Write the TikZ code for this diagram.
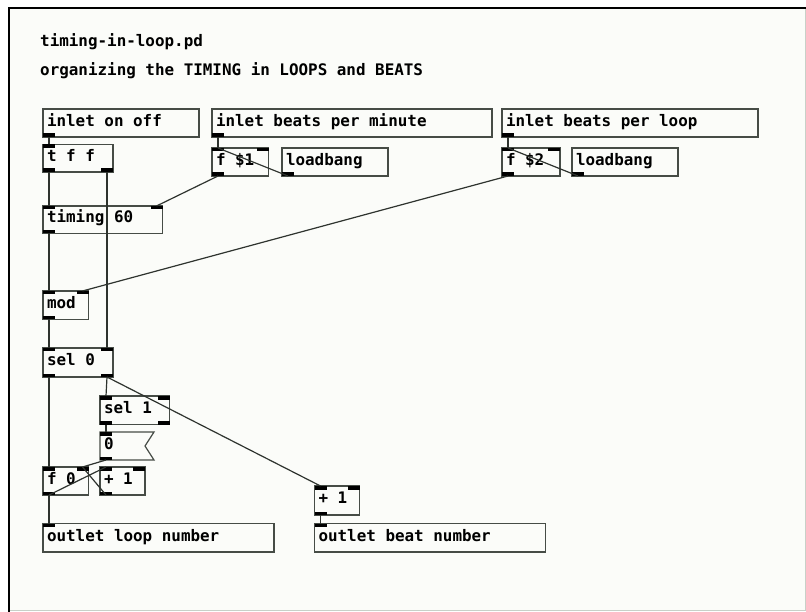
\documentclass[tikz,border=0pt]{standalone}
\usepackage{fontspec}
\newfontfamily\pdfont{DejaVu Sans Mono}
\usetikzlibrary{calc}
\definecolor{bg}{HTML}{FBFCF9}
\definecolor{edge}{HTML}{464C46}
\definecolor{wire}{HTML}{2E332E}
\definecolor{frameR}{HTML}{C8D0C8}
\tikzset{
  pdtext/.style={font=\pdfont\bfseries\fontsize{15.9}{18}\selectfont},
  pdbox/.style={pdtext, draw=edge, line width=1.2pt, anchor=north west,
    inner ysep=0pt, inner xsep=4pt, outer sep=0pt, align=left,
    text height=10.5pt, text depth=4pt,
    execute at begin node={\spaceskip=0pt\xspaceskip=0pt}},
  msgbox/.style={pdbox, draw=none},
  nub/.style={fill=black},
  wire/.style={draw=wire, line width=1.2pt},
  comment/.style={pdtext, anchor=base west, inner sep=0pt}
}
\newcommand\pdbox[7][pdbox]{%
  \pgfmathsetmacro\bh{#6-#4}%
  \pgfmathsetmacro\tw{#5-#3-8}%
  \node[#1, minimum height=\bh pt, text width=\tw pt] (#2) at (#3,#4) {#7};%
}
\newcommand\nTL[1]{\fill[nub] (#1.north west) rectangle ++(12,3.5);}
\newcommand\nTR[1]{\fill[nub] (#1.north east) rectangle ++(-12,3.5);}
\newcommand\nBL[1]{\fill[nub] (#1.south west) rectangle ++(12,-3.5);}
\newcommand\nBR[1]{\fill[nub] (#1.south east) rectangle ++(-12,-3.5);}
\begin{document}
\begin{tikzpicture}[x=1pt,y=-1pt]
\useasboundingbox (0,0) rectangle (806,612);
\fill[white] (0,0) rectangle (806,612);
\fill[bg] (9,8) rectangle (805,610);
\draw[frameR, line width=1pt] (805,8) -- (805,610) -- (9,610);
\draw[black, line width=2pt] (9,612) -- (9,8) -- (806,8);

\node[comment] (title) at (40,47) {timing-in-loop.pd};
\node[comment] (subtitle) at (40,76) {organizing the TIMING in LOOPS and BEATS};

\pdbox{inOnOff}{43}{109}{199}{137}{inlet on off}
\pdbox{inBpm}{212}{109}{492}{137}{inlet beats per minute}
\pdbox{inBpl}{502}{109}{758}{137}{inlet beats per loop}
\pdbox{tff}{43}{144.5}{113}{172}{t f f}
\pdbox{fA}{212}{148}{268.5}{176}{f \$1}
\pdbox{lbA}{282}{148}{388}{176}{loadbang}
\pdbox{fB}{502}{148}{560}{176}{f \$2}
\pdbox{lbB}{572}{148}{678}{176}{loadbang}
\pdbox{timing}{43}{206}{162.5}{233.5}{timing 60}
\pdbox{mod}{43}{291}{88.5}{319.5}{mod}
\pdbox{selA}{43}{348}{113}{377}{sel 0}
\pdbox{selB}{100}{396}{169.5}{424.5}{sel 1}
\pdbox[msgbox]{msg}{100}{432}{154}{460}{0}
\draw[edge, line width=1.2pt] (msg.north west) -- (msg.north east) -- ($(msg.east)+(-9,0)$) -- (msg.south east) -- (msg.south west) -- cycle;
\pdbox{fC}{43}{467}{88.5}{495}{f 0}
\pdbox{plusA}{100}{467}{145}{495}{+ 1}
\pdbox{plusB}{314.5}{486}{359.5}{515}{+ 1}
\pdbox{outLoop}{43}{523.5}{274}{552}{outlet loop number}
\pdbox{outBeat}{314.5}{523.5}{545.5}{552}{outlet beat number}

% inlets / outlets
\nBL{inOnOff} \nBL{inBpm} \nBL{inBpl}
\nTL{tff} \nBL{tff} \nBR{tff}
\nTL{fA} \nTR{fA} \nBL{fA}
\nBL{lbA}
\nTL{fB} \nTR{fB} \nBL{fB}
\nBL{lbB}
\nTL{timing} \nTR{timing} \nBL{timing}
\nTL{mod} \nTR{mod} \nBL{mod}
\nTL{selA} \nTR{selA} \nBL{selA} \nBR{selA}
\nTL{selB} \nTR{selB} \nBL{selB} \nBR{selB}
\nTL{msg} \nBL{msg}
\nTL{fC} \nTR{fC} \nBL{fC}
\nTL{plusA} \nTR{plusA} \nBL{plusA}
\nTL{plusB} \nTR{plusB} \nBL{plusB}
\nTL{outLoop} \nTL{outBeat}

% connections
\draw[wire] ($(inOnOff.south west)+(6,0)$) -- ($(tff.north west)+(6,0)$);
\draw[wire] ($(inBpm.south west)+(6,0)$) -- ($(fA.north west)+(6,0)$);
\draw[wire] ($(lbA.south west)+(6,0)$) -- ($(fA.north west)+(6,0)$);
\draw[wire] ($(fA.south west)+(6,0)$) -- ($(timing.north east)+(-6,0)$);
\draw[wire] ($(tff.south west)+(6,0)$) -- ($(timing.north west)+(6,0)$);
\draw[wire] ($(timing.south west)+(6,0)$) -- ($(mod.north west)+(6,0)$);
\draw[wire] ($(inBpl.south west)+(6,0)$) -- ($(fB.north west)+(6,0)$);
\draw[wire] ($(lbB.south west)+(6,0)$) -- ($(fB.north west)+(6,0)$);
\draw[wire] ($(fB.south west)+(6,0)$) -- ($(mod.north east)+(-6,0)$);
\draw[wire] ($(tff.south east)+(-6,0)$) -- ($(selA.north east)+(-6,0)$);
\draw[wire] ($(mod.south west)+(6,0)$) -- ($(selA.north west)+(6,0)$);
\draw[wire] ($(selA.south west)+(6,0)$) -- ($(fC.north west)+(6,0)$);
\draw[wire] ($(selA.south east)+(-6,0)$) -- ($(selB.north west)+(6,0)$);
\draw[wire] ($(selA.south east)+(-6,0)$) -- ($(plusB.north west)+(6,0)$);
\draw[wire] ($(selB.south west)+(6,0)$) -- ($(msg.north west)+(6,0)$);
\draw[wire] ($(msg.south west)+(6,0)$) -- ($(fC.north east)+(-6,0)$);
\draw[wire] ($(fC.south west)+(6,0)$) -- ($(plusA.north west)+(6,0)$);
\draw[wire] ($(plusA.south west)+(6,0)$) -- ($(fC.north east)+(-6,0)$);
\draw[wire] ($(fC.south west)+(6,0)$) -- ($(outLoop.north west)+(6,0)$);
\draw[wire] ($(plusB.south west)+(6,0)$) -- ($(outBeat.north west)+(6,0)$);
\end{tikzpicture}
\end{document}
